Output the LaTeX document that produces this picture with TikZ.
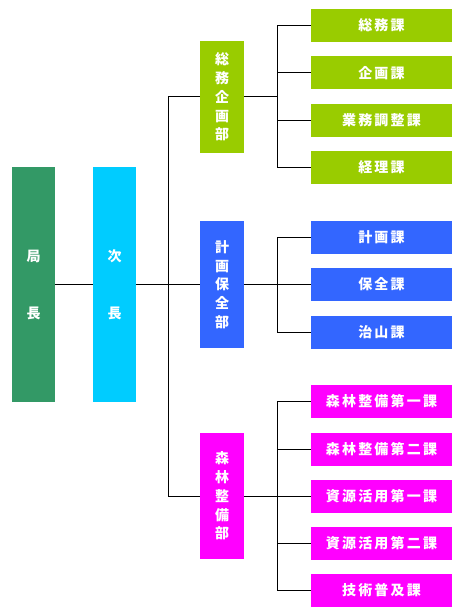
\documentclass[tikz,border=0pt]{standalone}
\usepackage{fontspec}
\newfontfamily\jpfont{Noto Sans CJK JP}
\newfontfamily\jpsect[LetterSpace=16]{Noto Sans CJK JP}
\usepackage{tikz}
\usetikzlibrary{positioning, calc}
\definecolor{kyokugreen}{HTML}{339966}
\definecolor{jichoblue}{HTML}{00CCFF}
\definecolor{somugreen}{HTML}{99CC00}
\definecolor{keikakublue}{HTML}{3366FF}
\definecolor{shinrinpink}{HTML}{FF00FF}
\tikzset{
	box/.style={inner sep=0pt, text=white, align=center},
	tall/.style={box, minimum width=43pt, minimum height=235pt, font=\jpfont\bfseries\fontsize{14}{19}\selectfont},
	bu/.style={box, minimum width=44pt, font=\jpfont\bfseries\fontsize{14}{18.7}\selectfont},
	ka/.style={box, minimum width=141pt, minimum height=33pt, font=\jpsect\bfseries\fontsize{14}{16}\selectfont},
	link/.style={line width=1pt, black}
}

\begin{document}
\begin{tikzpicture}[x=1pt, y=-1pt]
		\useasboundingbox (0,0) rectangle (463,615);

		\node[tall, fill=kyokugreen]	(kyoku)		at	(33.5,284.5)	{局\\[38pt]長};
		\node[tall, fill=jichoblue]		(jicho)		at	(114.5,284.5)	{次\\[38pt]長};

		\node[bu, fill=somugreen, minimum height=112pt]		(somu)		at	(222,97)		{総\\務\\企\\画\\部};
		\node[bu, fill=keikakublue, minimum height=127pt]	(keikaku)	at	(222,284.5)		{計\\画\\保\\全\\部};
		\node[bu, fill=shinrinpink, minimum height=126pt]	(shinrin)	at	(222,496)		{森\\林\\整\\備\\部};

		\node[ka, fill=somugreen]		(somuka)	at	(381.5,25.5)	{総務課};
		\node[ka, fill=somugreen]		(kikaku)	at	(381.5,73)		{企画課};
		\node[ka, fill=somugreen]		(gyomu)		at	(381.5,120.5)	{業務調整課};
		\node[ka, fill=somugreen]		(keiri)		at	(381.5,167.5)	{経理課};

		\node[ka, fill=keikakublue]		(keikakuka)	at	(381.5,237.5)	{計画課};
		\node[ka, fill=keikakublue]		(hozen)		at	(381.5,284)		{保全課};
		\node[ka, fill=keikakublue]		(chisan)	at	(381.5,332)		{治山課};

		\node[ka, fill=shinrinpink]		(seibi1)	at	(381.5,401.5)	{森林整備第一課};
		\node[ka, fill=shinrinpink]		(seibi2)	at	(381.5,449)		{森林整備第二課};
		\node[ka, fill=shinrinpink]		(shigen1)	at	(381.5,496.5)	{資源活用第一課};
		\node[ka, fill=shinrinpink]		(shigen2)	at	(381.5,543)		{資源活用第二課};
		\node[ka, fill=shinrinpink]		(gijutsu)	at	(381.5,590.5)	{技術普及課};

		% trunk and branch points
		\coordinate	(trunk)		at	(168,284.5);
		\coordinate	(somusp)	at	(277,97);
		\coordinate	(keikakusp)	at	(277,284.5);
		\coordinate	(shinrinsp)	at	(277,496);

		\draw[link] (kyoku) 	-- (jicho);
		\draw[link] (jicho.east)	-- (trunk);
		\draw[link] (trunk) |- (somu.west);
		\draw[link] (trunk) -- (keikaku.west);
		\draw[link] (trunk) |- (shinrin.west);

		\draw[link] (somu.east) -- (somusp);
		\foreach \k in {somuka, kikaku, gyomu, keiri}
			\draw[link] (somusp) |- (\k.west);

		\draw[link] (keikaku.east) -- (keikakusp);
		\foreach \k in {keikakuka, hozen, chisan}
			\draw[link] (keikakusp) |- (\k.west);

		\draw[link] (shinrin.east) -- (shinrinsp);
		\foreach \k in {seibi1, seibi2, shigen1, shigen2, gijutsu}
			\draw[link] (shinrinsp) |- (\k.west);
	\end{tikzpicture}
\end{document}
